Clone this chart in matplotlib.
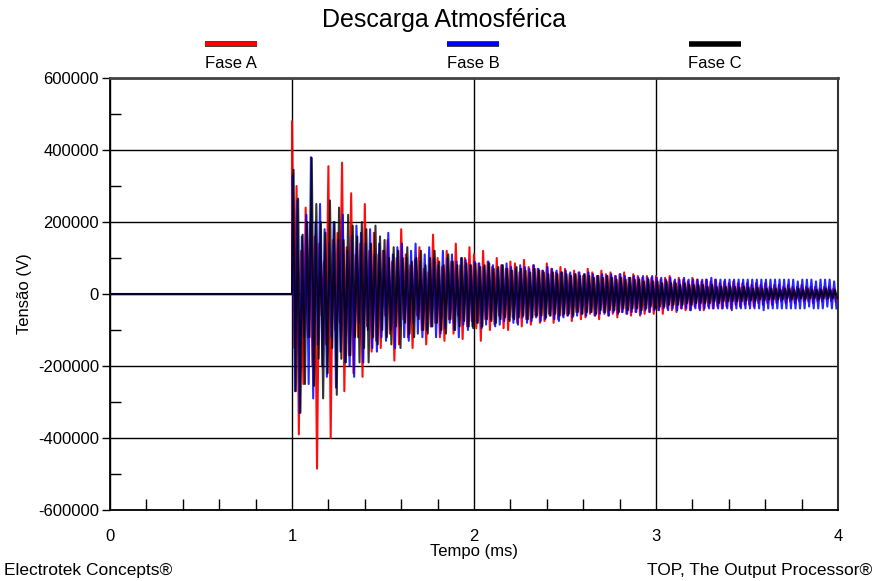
import numpy as np
import matplotlib.pyplot as plt
from matplotlib.lines import Line2D
import matplotlib.patheffects as pe

plt.rcParams['font.family'] = ['Liberation Sans', 'DejaVu Sans']

# half-period between successive extremes (ms)
dt = 0.0125

# extremes of each phase after the strike (kV), from t = 1 ms onwards
fase_a = [
    480, -150, 300, -390, 120, -250, 240, -120, 200, -200,
    160, -485, 140, -60, 90, -140, 355, -400, 150, -100,
    170, -80, 365, -270, 130, -170, 280, -220, 110, -120,
    140, -230, 250, -90, 120, -160, 170, -130, 110, -150,
    120, -60, 150, -110, 90, -185, 100, -140, 180, -70,
    110, -120, 80, -150, 95, -60, 130, -100, 70, -140,
    60, -90, 165, -80, 100, -120, 75, -130, 120, -70,
    90, -110, 140, -60, 80, -125, 100, -90, 130, -75,
    110, -95, 85, -130, 120, -70, 90, -100, 75, -85,
    100, -60, 80, -95, 70, -100, 90, -65, 85, -80,
    60, -90, 95, -70, 75, -85, 80, -60, 70, -80,
    65, -75, 85, -55, 70, -80, 60, -70, 75, -60,
    70, -60, 55, -75, 65, -50, 60, -70, 50, -65,
    70, -55, 60, -60, 50, -70, 65, -50, 55, -60,
    60, -55, 50, -65, 55, -50, 60, -55, 45, -60,
    55, -50, 50, -60, 45, -55, 50, -50, 45, -55,
    50, -45, 40, -55, 45, -40, 50, -45, 35, -50,
    45, -40, 40, -45, 35, -45, 45, -35, 40, -40,
    35, -45, 40, -35, 35, -40, 40, -35, 30, -40,
    35, -35, 30, -40, 35, -30, 30, -35, 30, -30,
    30, -30, 25, -35, 30, -25, 25, -30, 30, -25,
    20, -30, 25, -25, 25, -20, 20, -25, 25, -20,
    20, -25, 20, -20, 25, -20, 20, -20, 20, -25,
    20, -20, 15, -20, 20, -15, 20, -20, 15, -20,
]

fase_b = [
    330, -270, 260, -330, 160, -120, 220, -250, 380, -290,
    200, -140, 250, -200, 180, -230, 140, -120, 200, -260,
    150, -160, 220, -190, 120, -200, 160, -230, 190, -80,
    170, -190, 140, -100, 180, -150, 110, -160, 140, -120,
    120, -130, 170, -100, 110, -150, 130, -90, 140, -120,
    100, -130, 120, -80, 140, -110, 90, -120, 110, -100,
    130, -90, 100, -120, 80, -110, 120, -95, 100, -80,
    110, -100, 90, -120, 100, -85, 95, -100, 80, -90,
    90, -80, 85, -95, 75, -85, 90, -70, 80, -90,
    70, -85, 80, -75, 85, -70, 75, -80, 70, -85,
    80, -65, 75, -80, 70, -75, 80, -65, 70, -75,
    65, -70, 75, -60, 70, -70, 65, -75, 60, -65,
    65, -60, 60, -65, 55, -60, 60, -55, 55, -60,
    60, -50, 55, -60, 50, -55, 55, -55, 50, -60,
    55, -50, 50, -55, 55, -50, 50, -55, 45, -50,
    50, -50, 45, -55, 50, -45, 45, -50, 50, -45,
    45, -45, 45, -40, 40, -45, 45, -40, 40, -45,
    40, -40, 45, -40, 40, -45, 40, -40, 40, -45,
    40, -40, 40, -40, 45, -40, 40, -40, 40, -40,
    40, -40, 40, -45, 40, -40, 40, -40, 40, -40,
    40, -40, 40, -40, 40, -40, 40, -45, 40, -40,
    40, -40, 40, -40, 40, -40, 40, -40, 40, -40,
    40, -40, 35, -40, 40, -40, 40, -35, 40, -40,
    35, -40, 40, -40, 40, -35, 40, -40, 35, -40,
]

fase_c = [
    345, -270, 265, -330, 165, -250, 200, -120, 378, -255,
    250, -180, 200, -290, 170, -220, 260, -150, 200, -280,
    240, -180, 150, -190, 220, -170, 190, -120, 160, -190,
    200, -150, 180, -190, 140, -120, 190, -140, 160, -100,
    150, -120, 100, -140, 130, -90, 120, -150, 100, -80,
    130, -110, 90, -120, 100, -70, 120, -100, 80, -110,
    100, -90, 120, -80, 90, -100, 80, -110, 110, -70,
    90, -100, 80, -90, 100, -75, 85, -90, 80, -95,
    85, -80, 75, -90, 80, -70, 85, -75, 70, -80,
    75, -70, 80, -65, 70, -75, 65, -70, 75, -65,
    70, -60, 65, -70, 60, -65, 70, -60, 65, -60,
    60, -65, 55, -60, 60, -55, 55, -60, 60, -55,
    55, -55, 50, -60, 55, -50, 50, -55, 55, -50,
    50, -50, 45, -55, 50, -45, 45, -50, 50, -45,
    45, -45, 40, -50, 45, -40, 40, -45, 45, -40,
    40, -40, 40, -45, 35, -40, 40, -35, 35, -40,
    35, -35, 30, -35, 35, -30, 30, -30, 30, -30,
    25, -30, 30, -25, 25, -30, 25, -25, 25, -25,
    25, -25, 20, -25, 25, -20, 20, -25, 20, -20,
    20, -20, 20, -20, 20, -20, 18, -20, 20, -18,
    18, -18, 15, -20, 18, -15, 15, -18, 15, -15,
    15, -15, 15, -15, 12, -15, 15, -12, 15, -15,
    12, -15, 15, -12, 12, -15, 15, -12, 12, -12,
    12, -15, 12, -12, 15, -12, 12, -12, 12, -12,
]

fases = ['Fase A', 'Fase B', 'Fase C']
cores = ['#ff0000', '#0000ff', '#000000']
alfas = [0.95, 0.85, 0.8]
offsets = [0.0, 0.004, 0.0085]

fig = plt.figure(figsize=(8.76, 5.81), dpi=100)
ax = fig.add_axes([0.1256, 0.1222, 0.831, 0.7435])

for v, cor, a, off in zip([fase_a, fase_b, fase_c], cores, alfas, offsets):
    t = 1.0 + off + dt * np.arange(len(v))
    x = np.concatenate([[0.0, 1.0], t])
    y = np.concatenate([[0.0, 0.0], np.array(v) * 1000.0])
    ax.plot(x, y, color=cor, lw=1.5, alpha=a, zorder=3)

ax.set_xlim(0, 4)
ax.set_ylim(-600000, 600000)
ax.set_xticks([0, 1, 2, 3, 4])
ax.set_xticks(np.arange(0.2, 4, 0.2), minor=True)
ax.set_yticks(np.arange(-600000, 600001, 200000))
ax.set_yticks(np.arange(-500000, 600000, 200000), minor=True)
ax.set_yticklabels([str(v) for v in range(-600000, 600001, 200000)])

ax.grid(True, which='major', color='black', lw=1.0, zorder=1)
ax.tick_params(axis='x', which='major', length=0, pad=14, labelsize=12)
ax.tick_params(axis='x', which='minor', direction='in', length=8, width=1)
ax.tick_params(axis='y', which='major', direction='out', length=6, width=1,
               pad=2, labelsize=12)
ax.tick_params(axis='y', which='minor', direction='in', length=8, width=1)

ax.spines['top'].set_color('#444444')
ax.spines['top'].set_linewidth(2.0)
ax.spines['right'].set_color('#333333')
ax.spines['right'].set_linewidth(1.5)
ax.spines['left'].set_linewidth(1.3)
ax.spines['bottom'].set_linewidth(1.3)

ax.set_xlabel('Tempo (ms)', fontsize=12, labelpad=0)
ax.set_ylabel('Tensão (V)', fontsize=12, labelpad=4)

fig.text(0.507, 1 - 20 / 581, 'Descarga Atmosférica', ha='center',
         va='center', fontsize=18)

# legend: coloured bar with the label underneath
for nome, cor, xc in zip(fases, cores, [231, 473, 715]):
    xf = xc / 876
    fig.add_artist(Line2D([xf - 26 / 876, xf + 26 / 876], [1 - 44 / 581] * 2,
                          color=cor, lw=3.0, solid_capstyle='butt',
                          path_effects=[pe.Stroke(linewidth=4.2, foreground='#333333'),
                                        pe.Normal()]))
    fig.text(xf, 1 - 63 / 581, nome, ha='center', va='center', fontsize=12)

fig.text(4 / 876, 1 - 570 / 581, 'Electrotek Concepts®', ha='left',
         va='center', fontsize=12.5)
fig.text(872 / 876, 1 - 570 / 581, 'TOP, The Output Processor®', ha='right',
         va='center', fontsize=12.5)

fig.savefig('out.png', dpi=100)
